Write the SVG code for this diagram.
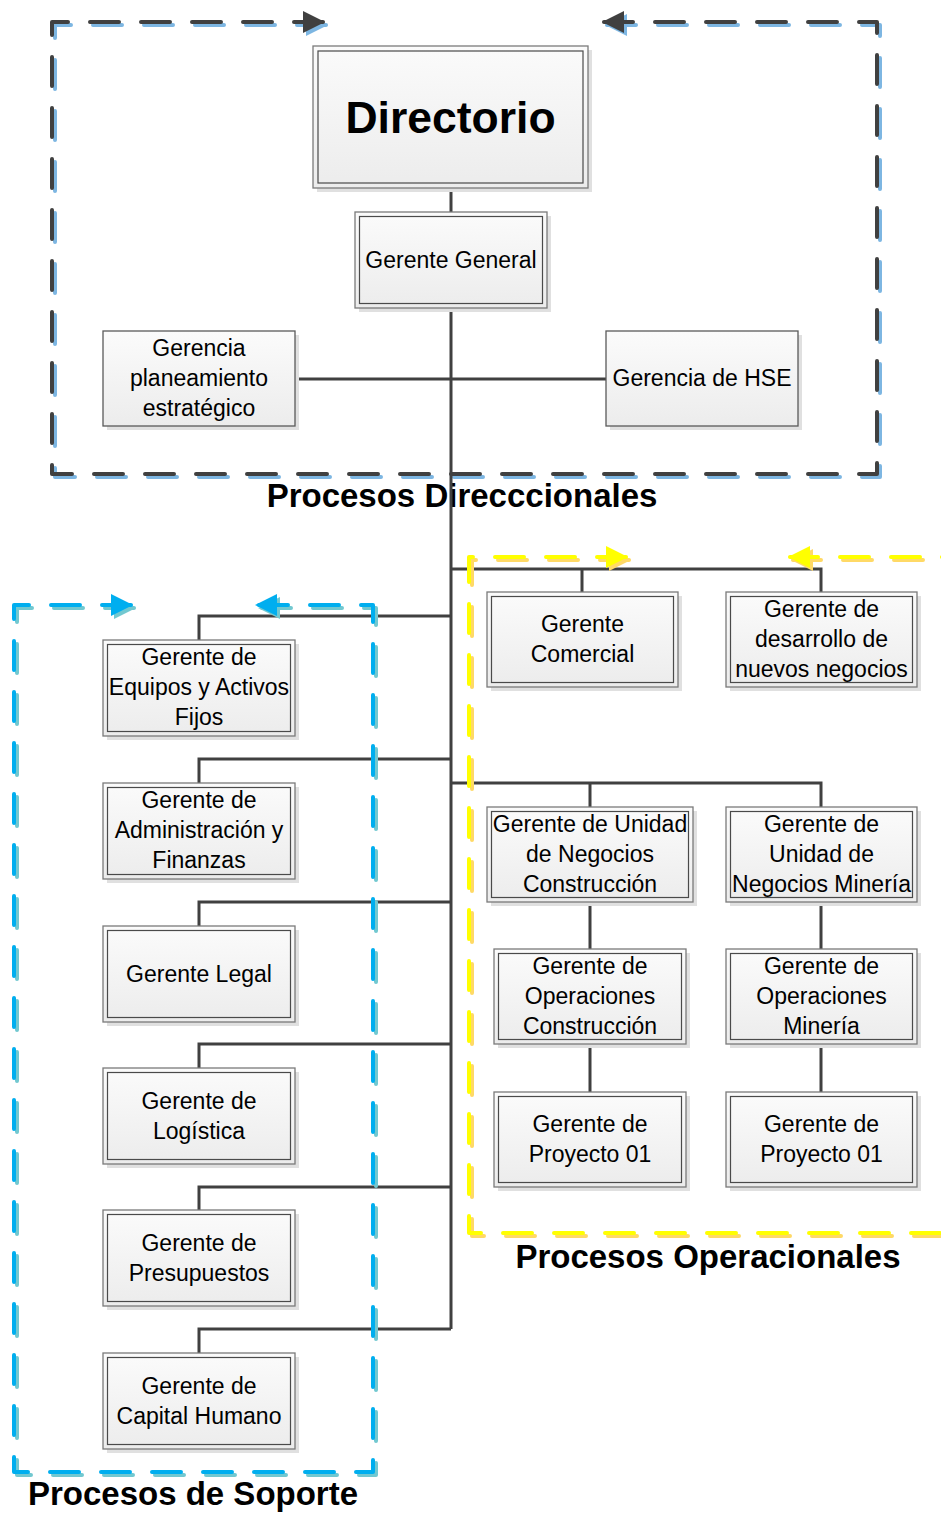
<svg xmlns="http://www.w3.org/2000/svg" width="941" height="1515" viewBox="0 0 941 1515">
  <defs>
    <linearGradient id="boxFill" x1="0" y1="0" x2="0" y2="1">
      <stop offset="0" stop-color="#fbfbfb"/>
      <stop offset="1" stop-color="#ececec"/>
    </linearGradient>
    <marker id="arDark" viewBox="0 0 22 22" markerWidth="22" markerHeight="22" markerUnits="userSpaceOnUse" refX="20" refY="11" orient="auto-start-reverse">
      <path d="M0,0 L22,11 L0,22 z" fill="#404040"/>
    </marker>
    <marker id="arSky" viewBox="0 0 22 22" markerWidth="22" markerHeight="22" markerUnits="userSpaceOnUse" refX="20" refY="11" orient="auto-start-reverse">
      <path d="M0,0 L22,11 L0,22 z" fill="#7db6e2"/>
    </marker>
    <marker id="arYellow" viewBox="0 0 22 22" markerWidth="22" markerHeight="22" markerUnits="userSpaceOnUse" refX="20" refY="11" orient="auto-start-reverse">
      <path d="M0,0 L22,11 L0,22 z" fill="#ffff00"/>
    </marker>
    <marker id="arAmber" viewBox="0 0 22 22" markerWidth="22" markerHeight="22" markerUnits="userSpaceOnUse" refX="20" refY="11" orient="auto-start-reverse">
      <path d="M0,0 L22,11 L0,22 z" fill="#ffd966"/>
    </marker>
    <marker id="arBlue" viewBox="0 0 22 22" markerWidth="22" markerHeight="22" markerUnits="userSpaceOnUse" refX="20" refY="11" orient="auto-start-reverse">
      <path d="M0,0 L22,11 L0,22 z" fill="#00aeef"/>
    </marker>
    <marker id="arTeal" viewBox="0 0 22 22" markerWidth="22" markerHeight="22" markerUnits="userSpaceOnUse" refX="20" refY="11" orient="auto-start-reverse">
      <path d="M0,0 L22,11 L0,22 z" fill="#72c8d0"/>
    </marker>
  </defs>
  <style>
    .conn { fill: none; stroke: #404040; stroke-width: 3; }
    .dash { fill: none; stroke-width: 4; stroke-dasharray: 29 22; stroke-linecap: round; stroke-linejoin: round; }
    .shadow { fill: #e0e0e0; }
    .outer { fill: url(#boxFill); stroke: #7a7a7a; stroke-width: 1.3; }
    .inner { fill: none; stroke: #4a4a4a; stroke-width: 1.2; }
    .single { fill: url(#boxFill); stroke: #5a5a5a; stroke-width: 1.3; }
    .lbl { font-family: "Liberation Sans", Arial, sans-serif; font-size: 23px; text-anchor: middle; fill: #000; }
    .big { font-family: "Liberation Sans", Arial, sans-serif; font-size: 44.5px; font-weight: bold; text-anchor: middle; fill: #000; }
    .title { font-family: "Liberation Sans", Arial, sans-serif; font-size: 33px; font-weight: bold; text-anchor: middle; fill: #000; }
  </style>

  <rect width="941" height="1515" fill="#ffffff"/>

  <!-- Directional processes frame -->
  <g id="region-direccionales">
    <path class="dash" stroke="#7db6e2" transform="translate(3,3)" marker-start="url(#arSky)" marker-end="url(#arSky)" d="M323 22 H52 V474 H877 V22 H604"/>
    <path class="dash" stroke="#404040" marker-start="url(#arDark)" marker-end="url(#arDark)" d="M323 22 H52 V474 H877 V22 H604"/>
  </g>

  <!-- Section titles -->
  <g id="titles">
    <text class="title" x="462" y="507">Procesos Direcccionales</text>
    <text class="title" x="708" y="1268">Procesos Operacionales</text>
    <text class="title" x="193" y="1505">Procesos de Soporte</text>
  </g>

  <!-- Reporting lines -->
  <g id="connectors">
    <path class="conn" d="M451 188 V212"/>
    <path class="conn" d="M451 308 V1329"/>
    <path class="conn" d="M295 379 H606"/>
    <path class="conn" d="M451 569 H821 V592 M582 569 V592"/>
    <path class="conn" d="M451 783 H821 V807 M590 783 V807"/>
    <path class="conn" d="M590 902 V949 M590 1044 V1092"/>
    <path class="conn" d="M821 902 V949 M821 1044 V1092"/>
    <path class="conn" d="M451 616 H199 V640"/>
    <path class="conn" d="M451 759 H199 V783"/>
    <path class="conn" d="M451 902 H199 V926"/>
    <path class="conn" d="M451 1044 H199 V1068"/>
    <path class="conn" d="M451 1187 H199 V1210"/>
    <path class="conn" d="M451 1329 H199 V1353"/>
  </g>

  <!-- Operational processes frame -->
  <g id="region-operacionales">
    <path class="dash" stroke="#ffd966" transform="translate(3,3)" marker-start="url(#arAmber)" marker-end="url(#arAmber)" d="M626 557 H469 V1233 H960 V557 H790"/>
    <path class="dash" stroke="#ffff00" marker-start="url(#arYellow)" marker-end="url(#arYellow)" d="M626 557 H469 V1233 H960 V557 H790"/>
  </g>

  <!-- Support processes frame -->
  <g id="region-soporte">
    <path class="dash" stroke="#72c8d0" transform="translate(3,3)" marker-start="url(#arTeal)" marker-end="url(#arTeal)" d="M131 605 H14 V1472 H373 V605 H257"/>
    <path class="dash" stroke="#00aeef" marker-start="url(#arBlue)" marker-end="url(#arBlue)" d="M131 605 H14 V1472 H373 V605 H257"/>
  </g>

  <!-- Nodes -->
  <g id="directorio">
    <rect class="shadow" x="317" y="50" width="275" height="142"/>
    <rect class="outer" x="313" y="46" width="275" height="142"/>
    <rect class="inner" x="318" y="51" width="265" height="132"/>
    <text class="big" x="450.5" y="133">Directorio</text>
  </g>

  <g id="gerente-general">
    <rect class="shadow" x="359" y="216" width="192" height="96"/>
    <rect class="outer" x="355" y="212" width="192" height="96"/>
    <rect class="inner" x="359.5" y="216.5" width="183" height="87"/>
    <text class="lbl" x="451" y="268">Gerente General</text>
  </g>

  <g id="gerencia-planeamiento">
    <rect class="shadow" x="107" y="335" width="192" height="95"/>
    <rect class="single" x="103" y="331" width="192" height="95"/>
    <text class="lbl" x="199" y="356">Gerencia</text>
    <text class="lbl" x="199" y="386">planeamiento</text>
    <text class="lbl" x="199" y="416">estratégico</text>
  </g>

  <g id="gerencia-hse">
    <rect class="shadow" x="610" y="335" width="192" height="95"/>
    <rect class="single" x="606" y="331" width="192" height="95"/>
    <text class="lbl" x="702" y="386">Gerencia de HSE</text>
  </g>

  <g id="gerente-comercial">
    <rect class="shadow" x="491" y="596" width="191" height="95"/>
    <rect class="outer" x="487" y="592" width="191" height="95"/>
    <rect class="inner" x="491.5" y="596.5" width="182" height="86"/>
    <text class="lbl" x="582.5" y="632">Gerente</text>
    <text class="lbl" x="582.5" y="662">Comercial</text>
  </g>

  <g id="gerente-desarrollo">
    <rect class="shadow" x="730" y="596" width="191" height="95"/>
    <rect class="outer" x="726" y="592" width="191" height="95"/>
    <rect class="inner" x="730.5" y="596.5" width="182" height="86"/>
    <text class="lbl" x="821.5" y="617">Gerente de</text>
    <text class="lbl" x="821.5" y="647">desarrollo de</text>
    <text class="lbl" x="821.5" y="677">nuevos negocios</text>
  </g>

  <g id="gerente-un-construccion">
    <rect class="shadow" x="491" y="811" width="206" height="95"/>
    <rect class="outer" x="487" y="807" width="206" height="95"/>
    <rect class="inner" x="491.5" y="811.5" width="197" height="86"/>
    <text class="lbl" x="590" y="832">Gerente de Unidad</text>
    <text class="lbl" x="590" y="862">de Negocios</text>
    <text class="lbl" x="590" y="892">Construcción</text>
  </g>

  <g id="gerente-un-mineria">
    <rect class="shadow" x="730" y="811" width="191" height="95"/>
    <rect class="outer" x="726" y="807" width="191" height="95"/>
    <rect class="inner" x="730.5" y="811.5" width="182" height="86"/>
    <text class="lbl" x="821.5" y="832">Gerente de</text>
    <text class="lbl" x="821.5" y="862">Unidad de</text>
    <text class="lbl" x="821.5" y="892">Negocios Minería</text>
  </g>

  <g id="gerente-op-construccion">
    <rect class="shadow" x="498" y="953" width="192" height="95"/>
    <rect class="outer" x="494" y="949" width="192" height="95"/>
    <rect class="inner" x="498.5" y="953.5" width="183" height="86"/>
    <text class="lbl" x="590" y="974">Gerente de</text>
    <text class="lbl" x="590" y="1004">Operaciones</text>
    <text class="lbl" x="590" y="1034">Construcción</text>
  </g>

  <g id="gerente-op-mineria">
    <rect class="shadow" x="730" y="953" width="191" height="95"/>
    <rect class="outer" x="726" y="949" width="191" height="95"/>
    <rect class="inner" x="730.5" y="953.5" width="182" height="86"/>
    <text class="lbl" x="821.5" y="974">Gerente de</text>
    <text class="lbl" x="821.5" y="1004">Operaciones</text>
    <text class="lbl" x="821.5" y="1034">Minería</text>
  </g>

  <g id="gerente-proyecto-construccion">
    <rect class="shadow" x="498" y="1096" width="192" height="95"/>
    <rect class="outer" x="494" y="1092" width="192" height="95"/>
    <rect class="inner" x="498.5" y="1096.5" width="183" height="86"/>
    <text class="lbl" x="590" y="1132">Gerente de</text>
    <text class="lbl" x="590" y="1162">Proyecto 01</text>
  </g>

  <g id="gerente-proyecto-mineria">
    <rect class="shadow" x="730" y="1096" width="191" height="95"/>
    <rect class="outer" x="726" y="1092" width="191" height="95"/>
    <rect class="inner" x="730.5" y="1096.5" width="182" height="86"/>
    <text class="lbl" x="821.5" y="1132">Gerente de</text>
    <text class="lbl" x="821.5" y="1162">Proyecto 01</text>
  </g>

  <g id="gerente-equipos">
    <rect class="shadow" x="107" y="644" width="192" height="96"/>
    <rect class="outer" x="103" y="640" width="192" height="96"/>
    <rect class="inner" x="107.5" y="644.5" width="183" height="87"/>
    <text class="lbl" x="199" y="665">Gerente de</text>
    <text class="lbl" x="199" y="695">Equipos y Activos</text>
    <text class="lbl" x="199" y="725">Fijos</text>
  </g>

  <g id="gerente-administracion">
    <rect class="shadow" x="107" y="787" width="192" height="96"/>
    <rect class="outer" x="103" y="783" width="192" height="96"/>
    <rect class="inner" x="107.5" y="787.5" width="183" height="87"/>
    <text class="lbl" x="199" y="808">Gerente de</text>
    <text class="lbl" x="199" y="838">Administración y</text>
    <text class="lbl" x="199" y="868">Finanzas</text>
  </g>

  <g id="gerente-legal">
    <rect class="shadow" x="107" y="930" width="192" height="96"/>
    <rect class="outer" x="103" y="926" width="192" height="96"/>
    <rect class="inner" x="107.5" y="930.5" width="183" height="87"/>
    <text class="lbl" x="199" y="982">Gerente Legal</text>
  </g>

  <g id="gerente-logistica">
    <rect class="shadow" x="107" y="1072" width="192" height="96"/>
    <rect class="outer" x="103" y="1068" width="192" height="96"/>
    <rect class="inner" x="107.5" y="1072.5" width="183" height="87"/>
    <text class="lbl" x="199" y="1109">Gerente de</text>
    <text class="lbl" x="199" y="1139">Logística</text>
  </g>

  <g id="gerente-presupuestos">
    <rect class="shadow" x="107" y="1214" width="192" height="96"/>
    <rect class="outer" x="103" y="1210" width="192" height="96"/>
    <rect class="inner" x="107.5" y="1214.5" width="183" height="87"/>
    <text class="lbl" x="199" y="1251">Gerente de</text>
    <text class="lbl" x="199" y="1281">Presupuestos</text>
  </g>

  <g id="gerente-capital-humano">
    <rect class="shadow" x="107" y="1357" width="192" height="96"/>
    <rect class="outer" x="103" y="1353" width="192" height="96"/>
    <rect class="inner" x="107.5" y="1357.5" width="183" height="87"/>
    <text class="lbl" x="199" y="1394">Gerente de</text>
    <text class="lbl" x="199" y="1424">Capital Humano</text>
  </g>
</svg>
